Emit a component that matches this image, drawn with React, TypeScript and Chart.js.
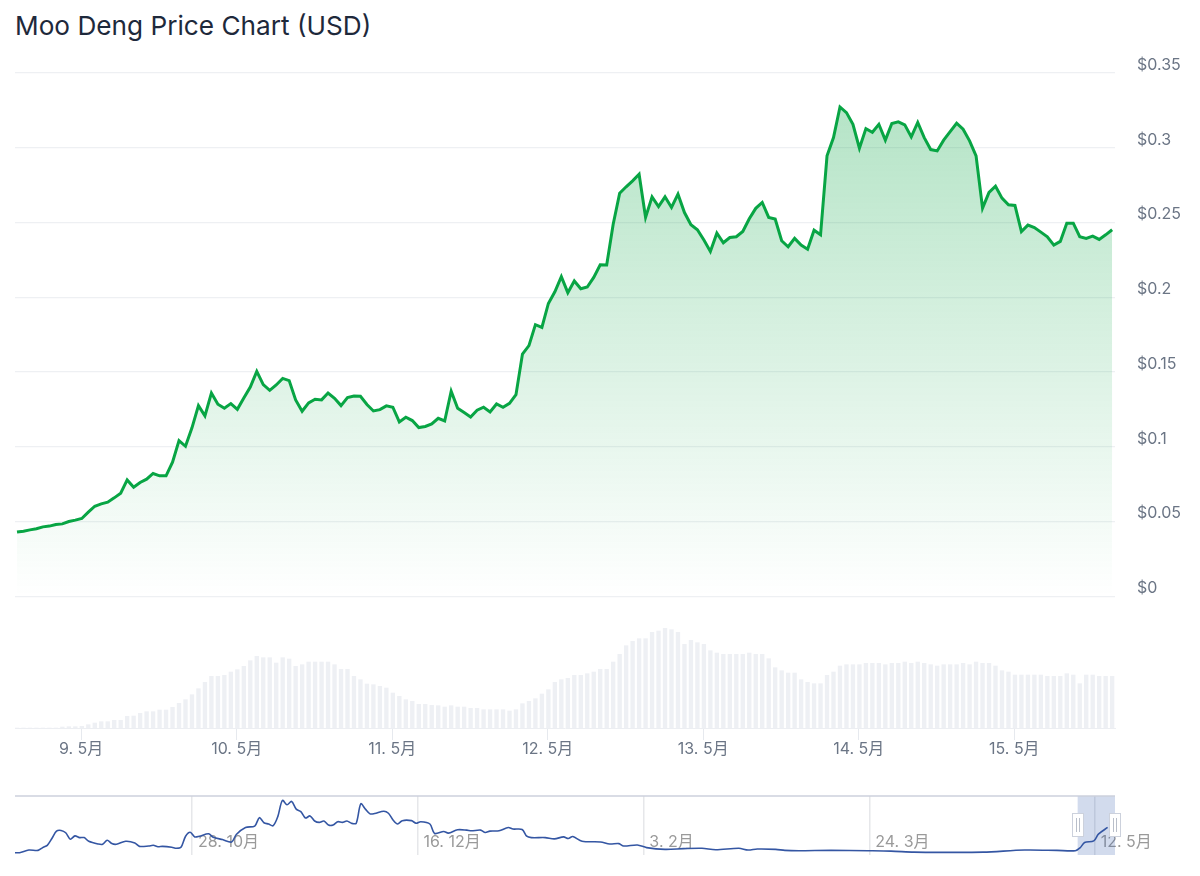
import React, { useEffect, useRef } from "react";
import Chart from "chart.js/auto";

const FONT = 'Inter, "Noto Sans CJK SC", sans-serif';

// hourly price, 170 points
const prices = [
  0.043, 0.0436, 0.0445, 0.0452, 0.0465, 0.047, 0.0481, 0.0485, 0.0501, 0.051,
  0.0521, 0.0563, 0.0603, 0.0619, 0.063, 0.0659, 0.069, 0.0779, 0.073, 0.0762,
  0.0784, 0.0822, 0.0806, 0.0806, 0.0897, 0.1042, 0.1004, 0.1127, 0.1276, 0.1207,
  0.136, 0.1285, 0.1258, 0.1289, 0.1251, 0.1327, 0.14, 0.1505, 0.1416, 0.1378,
  0.1414, 0.1458, 0.1443, 0.1314, 0.1238, 0.1294, 0.1318, 0.1314, 0.136, 0.1325,
  0.1276, 0.1329, 0.134, 0.1338, 0.1283, 0.124, 0.1249, 0.1274, 0.1265, 0.1167,
  0.1198, 0.1176, 0.1129, 0.1136, 0.1153, 0.1191, 0.1173, 0.1372, 0.1258, 0.1229,
  0.12, 0.1245, 0.1265, 0.1234, 0.1287, 0.1265, 0.1291, 0.1349, 0.1621, 0.1677,
  0.1817, 0.1799, 0.1959, 0.2037, 0.2138, 0.2031, 0.2109, 0.2057, 0.2069, 0.2133,
  0.2218, 0.2216, 0.2489, 0.2696, 0.2739, 0.2779, 0.2823, 0.2534, 0.2672, 0.2607,
  0.2672, 0.2601, 0.269, 0.2567, 0.2485, 0.2452, 0.2383, 0.2307, 0.2429, 0.2365,
  0.24, 0.2405, 0.244, 0.2525, 0.2595, 0.2634, 0.2534, 0.2523, 0.2378, 0.2338,
  0.2394, 0.2349, 0.2322, 0.2449, 0.2418, 0.2946, 0.3068, 0.3273, 0.3235, 0.3157,
  0.2997, 0.3128, 0.3104, 0.3157, 0.3051, 0.3162, 0.3173, 0.3153, 0.3073, 0.3169,
  0.3068, 0.2988, 0.2979, 0.3051, 0.3108, 0.3164, 0.3124, 0.3046, 0.2946, 0.2596,
  0.2701, 0.2743, 0.2663, 0.2619, 0.2614, 0.244, 0.2483, 0.2467, 0.2436, 0.2405,
  0.2349, 0.2374, 0.2496, 0.2496, 0.2405, 0.2394, 0.2409, 0.2387, 0.2418, 0.2452,
];

// hourly volume, relative units (no axis in the picture)
const volumes = [
  0, 0, 0, 0, 0, 0, 0, 3, 4, 4, 5, 10, 15, 19, 19, 23, 23, 35, 36, 44, 49, 49, 54, 54, 62, 74, 85,
  100, 118, 137, 155, 155, 158, 168, 175, 185, 202, 215, 211, 211, 195, 211, 207, 185, 190, 198,
  198, 198, 198, 190, 176, 176, 155, 145, 132, 130, 125, 120, 105,
  95, 85, 80, 71, 71, 68, 67, 63, 67, 63, 63, 59, 59, 55, 55, 55, 55, 51, 55, 73, 80, 88, 102, 115,
  137, 145, 149, 158, 158, 163, 168, 176, 176, 198, 221, 247, 260, 268, 268, 287, 291, 299, 295,
  287, 251, 263, 256, 251, 232, 225, 221, 221, 221, 221, 225, 221, 221, 208, 181, 172, 165, 165,
  145, 137, 133, 133, 158, 168, 186, 190, 190, 190, 194, 194, 194, 190, 194, 194, 198, 194, 198,
  194, 190, 186, 190, 190, 190, 194, 190, 198, 194, 194, 186, 172, 168, 159, 159, 159, 159, 159,
  155, 155, 155, 163, 159, 133, 159, 159, 155, 155, 155,
];

const priceTicks = [0, 0.05, 0.1, 0.15, 0.2, 0.25, 0.3, 0.35];
const dayTicks = [9.9, 33.9, 57.9, 81.9, 105.9, 129.9, 153.9];
const dayLabels = ["9. 5月", "10. 5月", "11. 5月", "12. 5月", "13. 5月", "14. 5月", "15. 5月"];

// navigator: whole history, day number since the start / price
const navDays = [
  0, 1, 3, 5, 6, 7, 8, 9, 10, 11, 12, 13, 14, 15, 16, 18, 19, 20, 21, 22, 24, 26, 27, 29, 30, 31, 32,
  34, 35, 36, 37, 38, 39, 40, 42, 43, 45, 47, 48, 50, 52, 53, 54, 55, 56, 57, 58, 59, 60, 61, 62, 63,
  64, 65, 66, 67, 68, 69, 70, 71, 72, 73, 74, 75, 76, 77, 78, 80, 81, 82, 83, 84, 86, 87, 88, 90, 91,
  93, 94, 96, 98, 99, 101, 102, 103, 105, 107, 108, 110, 111, 112, 115, 117, 119, 120, 121, 123, 127,
  129, 131, 132, 135, 137, 141, 145, 149, 152, 157, 159, 161, 165, 167, 170, 177, 185, 190, 195, 201,
  210, 219, 226, 230, 231, 232, 234, 235, 237,
];
const navPrices = [
  0.02, 0.02, 0.043, 0.04, 0.064, 0.084, 0.143, 0.207, 0.213, 0.193, 0.137, 0.166, 0.151, 0.151, 0.119,
  0.096, 0.093, 0.128, 0.099, 0.093, 0.119, 0.105, 0.075, 0.078, 0.084, 0.072, 0.075, 0.067, 0.058, 0.067,
  0.163, 0.198, 0.157, 0.163, 0.184, 0.154, 0.134, 0.113, 0.178, 0.239, 0.251, 0.324, 0.28, 0.269, 0.254,
  0.333, 0.474, 0.436, 0.465, 0.398, 0.377, 0.321, 0.339, 0.295, 0.283, 0.295, 0.26, 0.26, 0.289, 0.283,
  0.295, 0.275, 0.275, 0.444, 0.398, 0.357, 0.36, 0.38, 0.362, 0.304, 0.269, 0.298, 0.298, 0.275, 0.289,
  0.269, 0.187, 0.204, 0.19, 0.219, 0.216, 0.21, 0.216, 0.195, 0.207, 0.21, 0.239, 0.225, 0.222, 0.163,
  0.151, 0.151, 0.14, 0.157, 0.143, 0.16, 0.119, 0.113, 0.096, 0.099, 0.078, 0.087, 0.064, 0.049, 0.055,
  0.058, 0.046, 0.058, 0.043, 0.052, 0.049, 0.04, 0.037, 0.04, 0.037, 0.034, 0.025, 0.023, 0.025, 0.043,
  0.04, 0.037, 0.061, 0.108, 0.122, 0.181, 0.239,
];
const navTicks = [38.4, 87.3, 136.3, 185.3, 234.2];
const navLabels = ["28. 10月", "16. 12月", "3. 2月", "24. 3月", "12. 5月"];
const navWindow = [230.5, 238.6];

const xRange = { min: -0.31, max: 169.44 };

// selection band and handles on the navigator
const navigatorPlugin = {
  id: "navigatorMask",
  beforeDatasetsDraw(chart: any) {
    const { ctx, chartArea, scales } = chart;
    const a = scales.x.getPixelForValue(navWindow[0]);
    const b = scales.x.getPixelForValue(navWindow[1]);
    ctx.save();
    ctx.fillStyle = "rgba(51,92,173,0.22)";
    ctx.fillRect(a, chartArea.top, b - a, chartArea.bottom - chartArea.top);
    ctx.strokeStyle = "#ccd1dc";
    ctx.lineWidth = 1.5;
    ctx.beginPath();
    ctx.moveTo(chartArea.left, chartArea.top);
    ctx.lineTo(chartArea.right, chartArea.top);
    ctx.stroke();
    ctx.restore();
  },
  afterDatasetsDraw(chart: any) {
    const { ctx, scales } = chart;
    ctx.save();
    navWindow.forEach((v) => {
      const x = Math.round(scales.x.getPixelForValue(v));
      ctx.fillStyle = "#fff";
      ctx.strokeStyle = "#ccd1dc";
      ctx.lineWidth = 1;
      ctx.fillRect(x - 5.5, 23.5, 11, 23);
      ctx.strokeRect(x - 5.5, 23.5, 11, 23);
      ctx.strokeStyle = "#b9bfca";
      ctx.beginPath();
      ctx.moveTo(x - 1.5, 28);
      ctx.lineTo(x - 1.5, 42);
      ctx.moveTo(x + 1.5, 28);
      ctx.lineTo(x + 1.5, 42);
      ctx.stroke();
    });
    ctx.restore();
  },
};

export default function App() {
  const priceRef = useRef<HTMLCanvasElement>(null);
  const volumeRef = useRef<HTMLCanvasElement>(null);
  const navRef = useRef<HTMLCanvasElement>(null);

  useEffect(() => {
    if (!priceRef.current || !volumeRef.current || !navRef.current) return;

    const priceCtx = priceRef.current.getContext("2d")!;
    const gradient = priceCtx.createLinearGradient(0, 72, 0, 596);
    gradient.addColorStop(0, "rgba(8,165,67,0.32)");
    gradient.addColorStop(1, "rgba(8,165,67,0)");

    const base = {
      responsive: false,
      animation: false,
      plugins: { legend: { display: false }, tooltip: { enabled: false }, title: { display: false } },
    };

    const priceChart = new Chart(priceCtx, {
      type: "line",
      data: {
        datasets: [
          {
            data: prices.map((y, x) => ({ x, y })),
            borderColor: "#08a544",
            borderWidth: 3,
            backgroundColor: gradient,
            fill: "origin",
            pointRadius: 0,
            tension: 0,
          },
        ],
      },
      options: {
        ...base,
        layout: { padding: { left: 15, right: 0, top: 73, bottom: 14 } },
        scales: {
          x: { type: "linear", display: false, ...xRange },
          y: {
            position: "right",
            min: 0,
            max: 0.35,
            afterBuildTicks: (axis: any) => {
              axis.ticks = priceTicks.map((value) => ({ value }));
            },
            afterFit: (axis: any) => {
              axis.width = 85;
            },
            grid: { color: "#eef0f3", lineWidth: 1.3, drawTicks: false },
            border: { display: false },
            ticks: {
              padding: 22,
              labelOffset: -8,
              color: "#6b7585",
              font: { family: FONT, size: 16 },
              callback: (v: any) => "$" + v,
            },
          },
        },
      },
    } as any);

    const volumeChart = new Chart(volumeRef.current, {
      type: "bar",
      data: {
        datasets: [
          {
            data: volumes.map((y, x) => ({ x, y })),
            backgroundColor: "#eef0f4",
            barThickness: 3.7,
          },
        ],
      },
      options: {
        ...base,
        layout: { padding: { left: 15, right: 85, top: 18, bottom: 0 } },
        scales: {
          x: {
            type: "linear",
            ...xRange,
            offset: false,
            afterBuildTicks: (axis: any) => {
              axis.ticks = dayTicks.map((value) => ({ value }));
            },
            afterFit: (axis: any) => {
              axis.height = 62;
            },
            grid: { offset: false, drawOnChartArea: false, tickLength: 12, tickColor: "#e6e9ee" },
            border: { color: "#eceef2" },
            ticks: {
              autoSkip: false,
              maxRotation: 0,
              padding: 0,
              color: "#6b7585",
              font: { family: FONT, size: 16 },
              callback: (v: any) => dayLabels[dayTicks.indexOf(v)],
            },
          },
          y: { display: false, min: 0, max: 300 },
        },
      },
    } as any);

    const navChart = new Chart(navRef.current, {
      type: "line",
      data: {
        datasets: [
          {
            data: navPrices.map((y, i) => ({ x: navDays[i], y })),
            borderColor: "#3456a3",
            borderWidth: 1.6,
            pointRadius: 0,
            tension: 0.3,
            clip: false,
          },
        ],
      },
      options: {
        ...base,
        layout: { padding: { left: 15, right: 85, top: 6, bottom: 0 } },
        scales: {
          x: {
            type: "linear",
            min: 0,
            max: 238.6,
            afterBuildTicks: (axis: any) => {
              axis.ticks = navTicks.map((value) => ({ value }));
            },
            afterFit: (axis: any) => {
              axis.height = 21;
            },
            grid: { color: "#e6e7ea", lineWidth: 1.5, drawTicks: false },
            border: { display: false },
            ticks: {
              autoSkip: false,
              maxRotation: 0,
              align: "start",
              mirror: true,
              labelOffset: 6,
              padding: 3,
              color: "#9a9a9a",
              font: { family: FONT, size: 16 },
              callback: (v: any) => navLabels[navTicks.indexOf(v)],
            },
          },
          y: { display: false, min: 0, max: 0.512 },
        },
      },
      plugins: [navigatorPlugin],
    } as any);

    return () => {
      priceChart.destroy();
      volumeChart.destroy();
      navChart.destroy();
    };
  }, []);

  return (
    <div style={{ position: "absolute", left: 0, top: 0, width: 1200, height: 876, background: "#fff", overflow: "hidden" }}>
      <div
        style={{
          position: "absolute",
          left: 15,
          top: 10,
          fontFamily: FONT,
          fontSize: 26.2,
          lineHeight: "32px",
          color: "#1e293b",
          whiteSpace: "nowrap",
        }}
      >
        Moo Deng Price Chart (USD)
      </div>
      <canvas ref={volumeRef} width={1200} height={180} style={{ position: "absolute", left: 0, top: 610 }} />
      <canvas ref={priceRef} width={1200} height={628} style={{ position: "absolute", left: 0, top: 0 }} />
      <canvas ref={navRef} width={1200} height={86} style={{ position: "absolute", left: 0, top: 790 }} />
    </div>
  );
}
